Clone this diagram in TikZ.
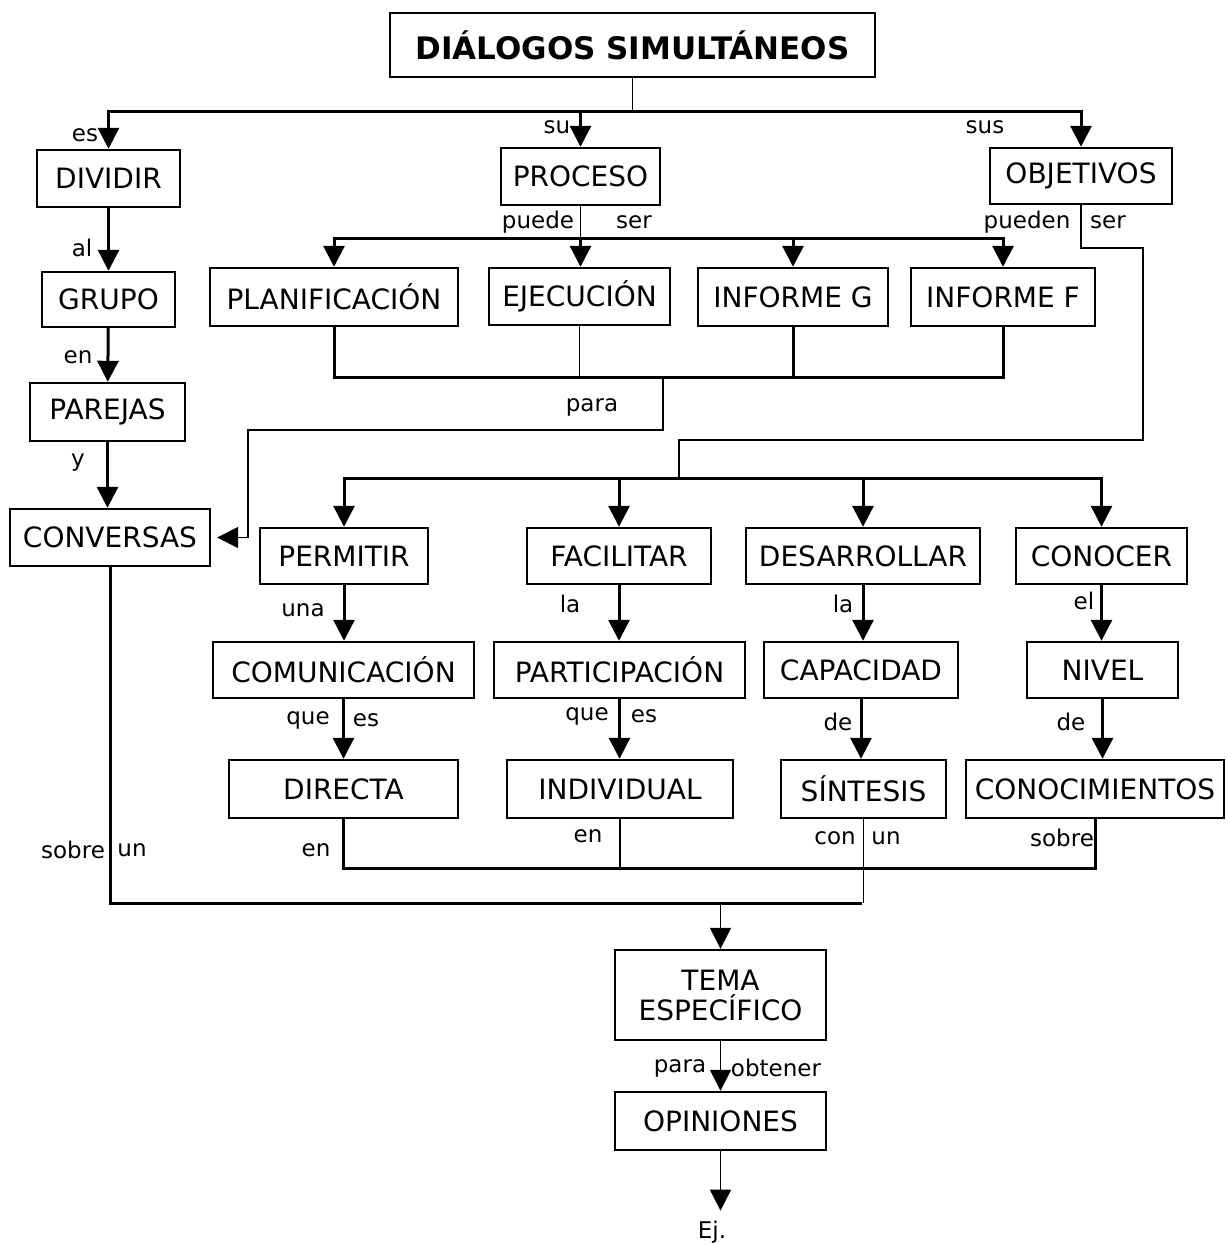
\documentclass[tikz,border=0pt]{standalone}
\usepackage{fontspec}
\setmainfont{DejaVu Sans}
\usetikzlibrary{arrows.meta}

\tikzset{
  concepto/.style={draw, line width=2.4pt, inner sep=0pt, font=\fontsize{28}{30}\selectfont},
  enlace/.style={inner sep=0pt, font=\fontsize{23}{25}\selectfont},
  linea/.style={line width=3pt},
  fina/.style={line width=1.6pt},
  flecha/.style={-{Triangle[width=21pt,length=21pt]}},
}

\begin{document}
\begin{tikzpicture}[x=1pt, y=-1pt]
			\useasboundingbox (0,0) rectangle (1226,1244);
			% titulo y primer nivel
			\node[concepto, minimum width=485pt, minimum height=64pt, font=\fontsize{31}{33}\selectfont\bfseries] (titulo) at (632.5,45) {DIÁLOGOS SIMULTÁNEOS};
			\node[concepto, minimum width=143pt, minimum height=57pt] (dividir) at (108.5,178.5) {DIVIDIR};
			\node[concepto, minimum width=159pt, minimum height=57pt] (proceso) at (580.5,176.5) {PROCESO};
			\node[concepto, minimum width=182pt, minimum height=56pt] (objetivos) at (1081,176) {OBJETIVOS};
			% columna izquierda
			\node[concepto, minimum width=133pt, minimum height=55pt] (grupo) at (108.5,299.5) {GRUPO};
			\node[concepto, minimum width=155pt, minimum height=58pt] (parejas) at (107.5,412) {PAREJAS};
			\node[concepto, minimum width=200pt, minimum height=57pt] (conversas) at (110,537.5) {CONVERSAS};
			% fases del proceso
			\node[concepto, minimum width=248pt, minimum height=58pt] (planificacion) at (334,297) {PLANIFICACIÓN};
			\node[concepto, minimum width=181pt, minimum height=57pt] (ejecucion) at (579.5,296.5) {EJECUCIÓN};
			\node[concepto, minimum width=190pt, minimum height=58pt] (informeg) at (793,297) {INFORME G};
			\node[concepto, minimum width=184pt, minimum height=58pt] (informef) at (1003,297) {INFORME F};
			% objetivos
			\node[concepto, minimum width=168pt, minimum height=56pt] (permitir) at (344,556) {PERMITIR};
			\node[concepto, minimum width=184pt, minimum height=56pt] (facilitar) at (619,556) {FACILITAR};
			\node[concepto, minimum width=234pt, minimum height=56pt] (desarrollar) at (863,556) {DESARROLLAR};
			\node[concepto, minimum width=171pt, minimum height=56pt] (conocer) at (1101.5,556) {CONOCER};
			\node[concepto, minimum width=261pt, minimum height=56pt] (comunicacion) at (343.5,670) {COMUNICACIÓN};
			\node[concepto, minimum width=251pt, minimum height=56pt] (participacion) at (619.5,670) {PARTICIPACIÓN};
			\node[concepto, minimum width=194pt, minimum height=56pt] (capacidad) at (861,670) {CAPACIDAD};
			\node[concepto, minimum width=151pt, minimum height=56pt] (nivel) at (1102.5,670) {NIVEL};
			\node[concepto, minimum width=229pt, minimum height=58pt] (directa) at (343.5,789) {DIRECTA};
			\node[concepto, minimum width=226pt, minimum height=58pt] (individual) at (620,789) {INDIVIDUAL};
			\node[concepto, minimum width=165pt, minimum height=58pt] (sintesis) at (863.5,789) {SÍNTESIS};
			\node[concepto, minimum width=258pt, minimum height=58pt] (conocimientos) at (1095,789) {CONOCIMIENTOS};
			% parte final
			\node[concepto, minimum width=211pt, minimum height=90pt, align=center] (tema) at (720.5,995) {TEMA\\ESPECÍFICO};
			\node[concepto, minimum width=211pt, minimum height=58pt] (opiniones) at (720.5,1121) {OPINIONES};
			\node[enlace] (ej) at (712,1232) {Ej.};

			% puntos de reparto
			\coordinate (bus1) at (632.5,112);
			\coordinate (bus2) at (580.5,238);
			\coordinate (bus3) at (663,377);
			\coordinate (codo1) at (248,430);
			\coordinate (codo2) at (1143,440);
			\coordinate (bus4) at (679,478);
			\coordinate (bus5) at (862,868);
			\coordinate (bus6) at (862,903);

			\draw[fina] (titulo.south) -- (bus1);
			\draw[linea, flecha] (bus1) -| (dividir.north);
			\draw[linea, flecha] (bus1) -| (proceso.north);
			\draw[linea, flecha] (bus1) -| (objetivos.north);

			\draw[linea, flecha] (dividir) -- (grupo);
			\draw[linea, flecha] (grupo) -- (parejas);
			\draw[linea, flecha] (parejas.south) -- (parejas.south |- conversas.north);

			\draw[fina] (proceso.south) -- (bus2);
			\draw[linea, flecha] (bus2) -| (planificacion.north);
			\draw[linea, flecha] (bus2) -- (bus2 |- ejecucion.north);
			\draw[linea, flecha] (bus2) -| (informeg.north);
			\draw[linea, flecha] (bus2) -| (informef.north);

			\draw[linea] (planificacion.south) |- (bus3) -| (informef.south);
			\draw[fina] (ejecucion.south) -- (ejecucion.south |- bus3);
			\draw[linea] (informeg.south) -- (informeg.south |- bus3);
			\draw[fina, flecha, shorten >=6pt] (bus3) |- (codo1) |- (conversas.east);

			\draw[fina] (objetivos.south) -- ++(0,43) -| (codo2) -| (bus4);
			\draw[linea, flecha] (bus4) -| (permitir.north);
			\draw[linea, flecha] (bus4) -| (facilitar.north);
			\draw[linea, flecha] (bus4) -| (desarrollar.north);
			\draw[linea, flecha] (bus4) -| (conocer.north);

			\foreach \a/\b in {permitir/comunicacion, facilitar/participacion, desarrollar/capacidad, conocer/nivel,
				comunicacion/directa, participacion/individual, capacidad/sintesis, nivel/conocimientos} {
				\draw[linea, flecha] (\a.south) -- (\a.south |- \b.north);
			}

			\draw[linea] (directa.south) |- (bus5) -| (conocimientos.south);
			\draw[fina] (individual.south) -- (individual.south |- bus5);
			\draw[fina] (sintesis.south) -- (sintesis.south |- bus6);
			\draw[linea] (conversas.south) |- (bus6);
			\draw[fina, flecha] (tema.north |- bus6) -- (tema.north);
			\draw[fina, flecha] (tema) -- (opiniones);
			\draw[fina, flecha, shorten >=10pt] (opiniones.south) -- (opiniones.south |- ej.north);

			% palabras de enlace
			\node[enlace] (l1) at (85,135) {es};
			\node[enlace] (l2) at (557,127) {su};
			\node[enlace] (l3) at (985,127) {sus};
			\node[enlace] (l4) at (82,248) {al};
			\node[enlace] (l5) at (78,357) {en};
			\node[enlace] (l6) at (78,463) {y};
			\node[enlace] (l7) at (538,222) {puede};
			\node[enlace] (l8) at (634,222) {ser};
			\node[enlace] (l9) at (1027,222) {pueden};
			\node[enlace] (l10) at (1108,222) {ser};
			\node[enlace] (l11) at (592,407) {para};
			\node[enlace] (l12) at (303,610) {una};
			\node[enlace] (l13) at (570,604) {la};
			\node[enlace] (l14) at (843,604) {la};
			\node[enlace] (l15) at (1084,601) {el};
			\node[enlace] (l16) at (308,720) {que};
			\node[enlace] (l17) at (366,720) {es};
			\node[enlace] (l18) at (587,716) {que};
			\node[enlace] (l19) at (644,716) {es};
			\node[enlace] (l20) at (838,722) {de};
			\node[enlace] (l21) at (1071,722) {de};
			\node[enlace] (l22) at (73,850) {sobre};
			\node[enlace] (l23) at (132,850) {un};
			\node[enlace] (l24) at (316,850) {en};
			\node[enlace] (l25) at (588,836) {en};
			\node[enlace] (l26) at (835,838) {con};
			\node[enlace] (l27) at (886,838) {un};
			\node[enlace] (l28) at (1062,838) {sobre};
			\node[enlace] (l29) at (680,1068) {para};
			\node[enlace] (l30) at (776,1068) {obtener};
		\end{tikzpicture}
\end{document}
